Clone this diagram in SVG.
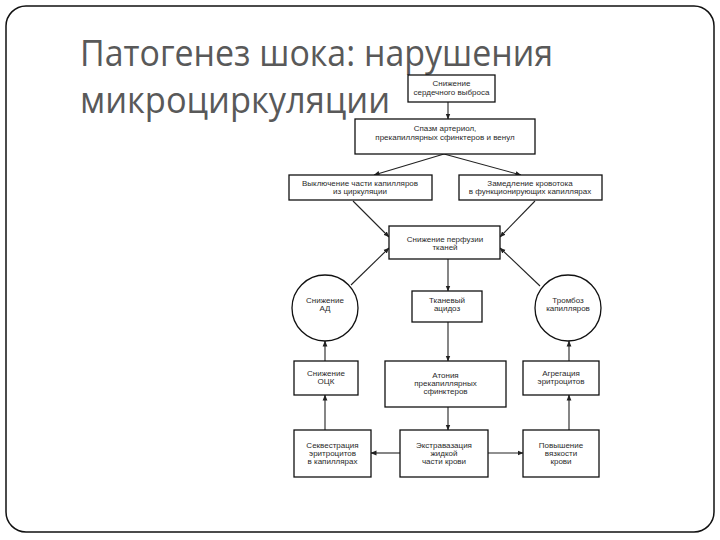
<svg xmlns="http://www.w3.org/2000/svg" width="720" height="540" viewBox="0 0 720 540">
<defs>
<marker id="ah" markerWidth="6" markerHeight="6" refX="5.5" refY="3" orient="auto" markerUnits="userSpaceOnUse">
<path d="M0,0.6 L6,3 L0,5.4 z" fill="#222"/>
</marker>
<style>
.title{font-family:"Open Sans","Noto Sans",sans-serif;font-size:37px;fill:#595959}
.box{fill:#fff;stroke:#111;stroke-width:1.3}
.t{font-family:"Liberation Sans",Arial,sans-serif;font-size:8px;fill:#2a2a2a;text-anchor:middle}
.c{fill:none;stroke:#222;stroke-width:1.1;marker-end:url(#ah)}
</style>
</defs>
<rect x="0" y="0" width="720" height="540" fill="#fff"/>
<rect x="6" y="6" width="708" height="526" rx="20" ry="20" fill="#fff" stroke="#111" stroke-width="1.5"/>
<g id="title">
<text class="title" x="80" y="66" textLength="473" lengthAdjust="spacingAndGlyphs">Патогенез шока: нарушения</text>
<text class="title" x="80" y="113" textLength="310" lengthAdjust="spacingAndGlyphs">микроциркуляции</text>
</g>
<g id="connectors">
<path class="c" d="M448,102 L448,119"/>
<path class="c" d="M444,154 L374,175"/>
<path class="c" d="M444,154 L521,175"/>
<path class="c" d="M353,201 L389,237"/>
<path class="c" d="M535,201 L500,237"/>
<path class="c" d="M351,285 L389,248"/>
<path class="c" d="M540,286 L500,248"/>
<path class="c" d="M448,259 L448,291"/>
<path class="c" d="M448,322 L448,361"/>
<path class="c" d="M448,407 L448,430"/>
<path class="c" d="M400,453 L371,453"/>
<path class="c" d="M488,453 L523,453"/>
<path class="c" d="M325,430 L325,395"/>
<path class="c" d="M325,361 L325,341"/>
<path class="c" d="M569,430 L569,395"/>
<path class="c" d="M569,361 L569,341"/>
</g>
<g id="n1"><rect class="box" x="408" y="75" width="87" height="27"/>
<text class="t" x="451.5" y="85.5">Снижение</text><text class="t" x="451.5" y="95">сердечного выброса</text></g>
<g id="n2"><rect class="box" x="355" y="119" width="180" height="35"/>
<text class="t" x="445" y="131">Спазм артериол,</text><text class="t" x="445" y="139.5">прекапиллярных сфинктеров и венул</text></g>
<g id="n3"><rect class="box" x="289" y="175" width="143" height="25"/>
<text class="t" x="360" y="186">Выключение части капилляров</text><text class="t" x="360" y="194">из циркуляции</text></g>
<g id="n4"><rect class="box" x="459" y="175" width="143" height="25"/>
<text class="t" x="530" y="186">Замедление кровотока</text><text class="t" x="530" y="194">в функционирующих капиллярах</text></g>
<g id="n5"><rect class="box" x="389" y="226" width="111" height="33"/>
<text class="t" x="445" y="242">Снижение перфузии</text><text class="t" x="445" y="250">тканей</text></g>
<g id="n6"><circle class="box" cx="325" cy="308" r="33"/>
<text class="t" x="325" y="303">Снижение</text><text class="t" x="325" y="311">АД</text></g>
<g id="n7"><rect class="box" x="412" y="291" width="70" height="31"/>
<text class="t" x="447" y="303">Тканевый</text><text class="t" x="447" y="311">ацидоз</text></g>
<g id="n8"><circle class="box" cx="568" cy="308" r="33"/>
<text class="t" x="568" y="303">Тромбоз</text><text class="t" x="568" y="311">капилляров</text></g>
<g id="n9"><rect class="box" x="294" y="361" width="64" height="34"/>
<text class="t" x="326" y="376">Снижение</text><text class="t" x="326" y="384">ОЦК</text></g>
<g id="n10"><rect class="box" x="385" y="361" width="121" height="46"/>
<text class="t" x="445.5" y="377.5">Атония</text><text class="t" x="445.5" y="385.5">прекапиллярных</text><text class="t" x="445.5" y="393.5">сфинктеров</text></g>
<g id="n11"><rect class="box" x="523" y="361" width="76" height="34"/>
<text class="t" x="561" y="376">Агрегация</text><text class="t" x="561" y="384">эритроцитов</text></g>
<g id="n12"><rect class="box" x="294" y="430" width="77" height="47"/>
<text class="t" x="332.5" y="448">Секвестрация</text><text class="t" x="332.5" y="456">эритроцитов</text><text class="t" x="332.5" y="464">в капиллярах</text></g>
<g id="n13"><rect class="box" x="400" y="430" width="88" height="47"/>
<text class="t" x="444" y="448">Экстравазация</text><text class="t" x="444" y="456">жидкой</text><text class="t" x="444" y="464">части крови</text></g>
<g id="n14"><rect class="box" x="523" y="430" width="76" height="47"/>
<text class="t" x="561" y="448">Повышение</text><text class="t" x="561" y="456">вязкости</text><text class="t" x="561" y="464">крови</text></g>
</svg>
